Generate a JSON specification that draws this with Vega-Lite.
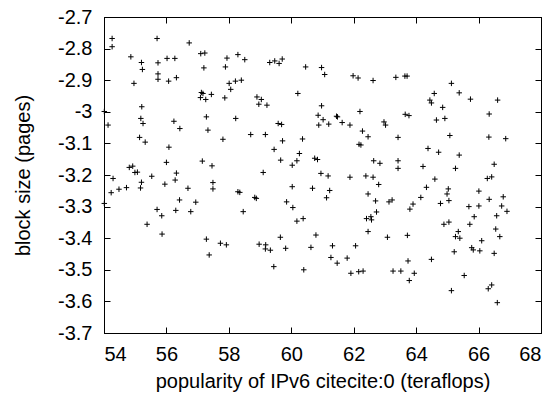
{
  "$schema": "https://vega.github.io/schema/vega-lite/v6.json",
  "width": 437,
  "height": 316,
  "autosize": "none",
  "padding": {"left": 104, "top": 17, "right": 16, "bottom": 63},
  "background": "white",
  "config": {
    "view": {"stroke": "black", "strokeWidth": 1},
    "font": "Liberation Sans",
    "axis": {
      "domainColor": "black",
      "domainWidth": 1,
      "tickColor": "black",
      "tickWidth": 1,
      "tickSize": -6,
      "grid": false,
      "labelFont": "Liberation Sans",
      "labelFontSize": 20,
      "labelColor": "black",
      "titleFont": "Liberation Sans",
      "titleFontSize": 20,
      "titleFontWeight": "normal",
      "titleColor": "black",
      "labelExpr": "'' + datum.value"
    }
  },
  "data": {"values": [
    {"x":54.26,"y":-2.768},{"x":54.26,"y":-2.794},{"x":55.70,"y":-2.768},{"x":56.73,"y":-2.782},{"x":54.86,"y":-2.826},
    {"x":55.20,"y":-2.844},{"x":55.23,"y":-2.866},{"x":55.73,"y":-2.845},{"x":56.02,"y":-2.831},{"x":56.27,"y":-2.831},
    {"x":55.73,"y":-2.880},{"x":55.73,"y":-2.897},{"x":56.07,"y":-2.903},{"x":56.32,"y":-2.892},{"x":54.96,"y":-2.910},
    {"x":54.01,"y":-2.999},{"x":55.21,"y":-2.984},{"x":54.13,"y":-3.042},{"x":55.18,"y":-3.021},{"x":55.25,"y":-3.037},
    {"x":56.24,"y":-3.030},{"x":56.43,"y":-3.053},{"x":55.14,"y":-3.081},{"x":55.32,"y":-3.096},{"x":56.08,"y":-3.112},
    {"x":56.00,"y":-3.160},{"x":54.81,"y":-3.176},{"x":54.92,"y":-3.172},{"x":54.99,"y":-3.192},{"x":55.07,"y":-3.191},
    {"x":55.53,"y":-3.204},{"x":56.32,"y":-3.194},{"x":56.28,"y":-3.216},{"x":54.29,"y":-3.211},{"x":55.20,"y":-3.223},
    {"x":55.17,"y":-3.241},{"x":54.72,"y":-3.240},{"x":54.48,"y":-3.245},{"x":54.23,"y":-3.256},{"x":55.95,"y":-3.229},
    {"x":56.69,"y":-3.242},{"x":54.01,"y":-3.290},{"x":55.70,"y":-3.309},{"x":55.85,"y":-3.329},{"x":56.30,"y":-3.312},
    {"x":56.42,"y":-3.279},{"x":55.38,"y":-3.356},{"x":55.86,"y":-3.387},{"x":56.78,"y":-3.316},{"x":57.10,"y":-2.816},
    {"x":57.23,"y":-2.814},{"x":57.20,"y":-2.861},{"x":57.94,"y":-2.830},{"x":58.29,"y":-2.819},{"x":58.51,"y":-2.835},
    {"x":57.89,"y":-2.858},{"x":59.31,"y":-2.844},{"x":59.47,"y":-2.839},{"x":59.71,"y":-2.833},{"x":59.61,"y":-2.847},
    {"x":58.01,"y":-2.910},{"x":58.21,"y":-2.903},{"x":58.40,"y":-2.900},{"x":58.06,"y":-2.929},{"x":57.12,"y":-2.939},
    {"x":57.17,"y":-2.942},{"x":57.09,"y":-2.955},{"x":57.26,"y":-2.961},{"x":57.44,"y":-2.945},{"x":57.87,"y":-2.956},
    {"x":58.90,"y":-2.953},{"x":59.04,"y":-2.961},{"x":58.96,"y":-2.976},{"x":59.22,"y":-2.979},{"x":60.21,"y":-2.942},
    {"x":57.28,"y":-3.016},{"x":58.22,"y":-3.021},{"x":57.33,"y":-3.058},{"x":57.81,"y":-3.087},{"x":58.70,"y":-3.072},
    {"x":59.17,"y":-3.072},{"x":59.58,"y":-3.037},{"x":59.69,"y":-3.040},{"x":59.72,"y":-3.092},{"x":59.45,"y":-3.119},
    {"x":59.66,"y":-3.153},{"x":60.26,"y":-3.132},{"x":60.18,"y":-3.155},{"x":60.03,"y":-3.169},{"x":57.15,"y":-3.156},
    {"x":57.46,"y":-3.171},{"x":59.10,"y":-3.192},{"x":57.49,"y":-3.224},{"x":57.49,"y":-3.244},{"x":58.29,"y":-3.253},
    {"x":58.35,"y":-3.255},{"x":58.83,"y":-3.271},{"x":58.88,"y":-3.274},{"x":60.03,"y":-3.237},{"x":59.85,"y":-3.285},
    {"x":60.05,"y":-3.303},{"x":56.94,"y":-3.286},{"x":58.46,"y":-3.316},{"x":60.18,"y":-3.346},{"x":57.28,"y":-3.403},
    {"x":57.73,"y":-3.416},{"x":57.92,"y":-3.421},{"x":57.37,"y":-3.453},{"x":58.97,"y":-3.419},{"x":59.18,"y":-3.421},
    {"x":59.17,"y":-3.434},{"x":59.33,"y":-3.438},{"x":59.65,"y":-3.397},{"x":59.82,"y":-3.432},{"x":59.44,"y":-3.490},
    {"x":60.46,"y":-2.858},{"x":60.97,"y":-2.860},{"x":61.07,"y":-2.882},{"x":61.98,"y":-2.886},{"x":62.14,"y":-2.893},
    {"x":62.62,"y":-2.901},{"x":63.35,"y":-2.891},{"x":63.64,"y":-2.887},{"x":63.71,"y":-2.887},{"x":60.97,"y":-2.981},
    {"x":60.86,"y":-3.011},{"x":61.02,"y":-3.025},{"x":61.45,"y":-3.014},{"x":61.48,"y":-3.016},{"x":62.20,"y":-2.999},
    {"x":63.65,"y":-3.008},{"x":63.77,"y":-3.012},{"x":60.88,"y":-3.042},{"x":61.20,"y":-3.039},{"x":61.63,"y":-3.034},
    {"x":61.88,"y":-3.042},{"x":62.97,"y":-3.032},{"x":63.02,"y":-3.042},{"x":62.28,"y":-3.061},{"x":62.46,"y":-3.079},
    {"x":62.17,"y":-3.103},{"x":62.23,"y":-3.105},{"x":63.42,"y":-3.081},{"x":60.36,"y":-3.086},{"x":60.75,"y":-3.147},
    {"x":60.84,"y":-3.151},{"x":60.95,"y":-3.195},{"x":61.18,"y":-3.203},{"x":61.88,"y":-3.207},{"x":62.39,"y":-3.203},
    {"x":62.62,"y":-3.207},{"x":62.64,"y":-3.155},{"x":62.84,"y":-3.163},{"x":63.42,"y":-3.155},{"x":63.42,"y":-3.179},
    {"x":62.80,"y":-3.230},{"x":60.68,"y":-3.242},{"x":61.23,"y":-3.249},{"x":61.13,"y":-3.272},{"x":62.46,"y":-3.260},
    {"x":62.70,"y":-3.282},{"x":63.13,"y":-3.285},{"x":63.23,"y":-3.279},{"x":62.73,"y":-3.317},{"x":60.38,"y":-3.338},
    {"x":62.41,"y":-3.338},{"x":62.55,"y":-3.332},{"x":62.57,"y":-3.342},{"x":60.79,"y":-3.390},{"x":60.63,"y":-3.429},
    {"x":60.40,"y":-3.500},{"x":61.32,"y":-3.424},{"x":61.27,"y":-3.461},{"x":61.47,"y":-3.479},{"x":61.79,"y":-3.463},
    {"x":62.06,"y":-3.424},{"x":61.91,"y":-3.511},{"x":62.16,"y":-3.506},{"x":62.30,"y":-3.504},{"x":62.46,"y":-3.379},
    {"x":63.08,"y":-3.397},{"x":63.72,"y":-3.391},{"x":63.26,"y":-3.504},{"x":63.51,"y":-3.504},{"x":63.74,"y":-3.472},
    {"x":63.78,"y":-3.534},{"x":65.13,"y":-2.910},{"x":64.58,"y":-2.942},{"x":65.38,"y":-2.940},{"x":64.44,"y":-2.963},
    {"x":64.49,"y":-2.972},{"x":65.74,"y":-2.960},{"x":66.61,"y":-2.963},{"x":64.85,"y":-2.986},{"x":64.65,"y":-3.026},
    {"x":64.92,"y":-3.021},{"x":66.34,"y":-3.007},{"x":65.08,"y":-3.075},{"x":66.33,"y":-3.080},{"x":66.87,"y":-3.085},
    {"x":64.38,"y":-3.116},{"x":64.72,"y":-3.128},{"x":65.38,"y":-3.137},{"x":64.22,"y":-3.173},{"x":65.26,"y":-3.179},
    {"x":66.50,"y":-3.166},{"x":64.60,"y":-3.213},{"x":66.28,"y":-3.211},{"x":66.42,"y":-3.206},{"x":64.33,"y":-3.239},
    {"x":65.03,"y":-3.244},{"x":64.99,"y":-3.260},{"x":66.01,"y":-3.251},{"x":64.15,"y":-3.271},{"x":65.05,"y":-3.281},
    {"x":64.78,"y":-3.290},{"x":63.90,"y":-3.292},{"x":63.80,"y":-3.308},{"x":66.34,"y":-3.277},{"x":66.79,"y":-3.269},
    {"x":65.69,"y":-3.300},{"x":66.01,"y":-3.298},{"x":66.74,"y":-3.298},{"x":66.91,"y":-3.315},{"x":65.86,"y":-3.332},
    {"x":66.58,"y":-3.329},{"x":64.89,"y":-3.356},{"x":65.05,"y":-3.349},{"x":65.72,"y":-3.356},{"x":65.35,"y":-3.379},
    {"x":65.26,"y":-3.395},{"x":65.40,"y":-3.400},{"x":66.55,"y":-3.371},{"x":66.68,"y":-3.395},{"x":66.10,"y":-3.408},
    {"x":65.78,"y":-3.430},{"x":65.83,"y":-3.437},{"x":66.04,"y":-3.440},{"x":65.22,"y":-3.443},{"x":66.50,"y":-3.448},
    {"x":64.49,"y":-3.467},{"x":63.94,"y":-3.511},{"x":65.54,"y":-3.518},{"x":65.13,"y":-3.566},{"x":66.31,"y":-3.560},
    {"x":66.42,"y":-3.548},{"x":66.60,"y":-3.604}
  ]},
  "layer": [
    {
      "mark": {"type": "point", "shape": "M-1,0L1,0M0,-1L0,1", "filled": false, "stroke": "black", "strokeWidth": 1, "size": 30, "opacity": 1},
      "encoding": {
        "x": {"field": "x", "type": "quantitative",
              "scale": {"domain": [54, 68], "nice": false, "zero": false},
              "axis": {"orient": "bottom", "values": [54, 56, 58, 60, 62, 64, 66, 68], "labelPadding": 17, "title": "popularity of IPv6 citecite:0 (teraflops)", "titlePadding": 7}},
        "y": {"field": "y", "type": "quantitative",
              "scale": {"domain": [-3.7, -2.7], "nice": false, "zero": false},
              "axis": {"orient": "left", "values": [-2.7, -2.8, -2.9, -3, -3.1, -3.2, -3.3, -3.4, -3.5, -3.6, -3.7], "labelPadding": 18, "title": "block size (pages)", "titlePadding": 24}}
      }
    },
    {
      "mark": {"type": "point", "opacity": 0},
      "encoding": {
        "x": {"field": "x", "type": "quantitative",
              "scale": {"domain": [54, 68], "nice": false, "zero": false},
              "axis": {"orient": "top", "values": [54, 56, 58, 60, 62, 64, 66, 68], "labels": false, "title": null}},
        "y": {"field": "y", "type": "quantitative",
              "scale": {"domain": [-3.7, -2.7], "nice": false, "zero": false},
              "axis": {"orient": "right", "values": [-2.7, -2.8, -2.9, -3, -3.1, -3.2, -3.3, -3.4, -3.5, -3.6, -3.7], "labels": false, "title": null}}
      }
    }
  ],
  "resolve": {"axis": {"x": "independent", "y": "independent"}}
}
